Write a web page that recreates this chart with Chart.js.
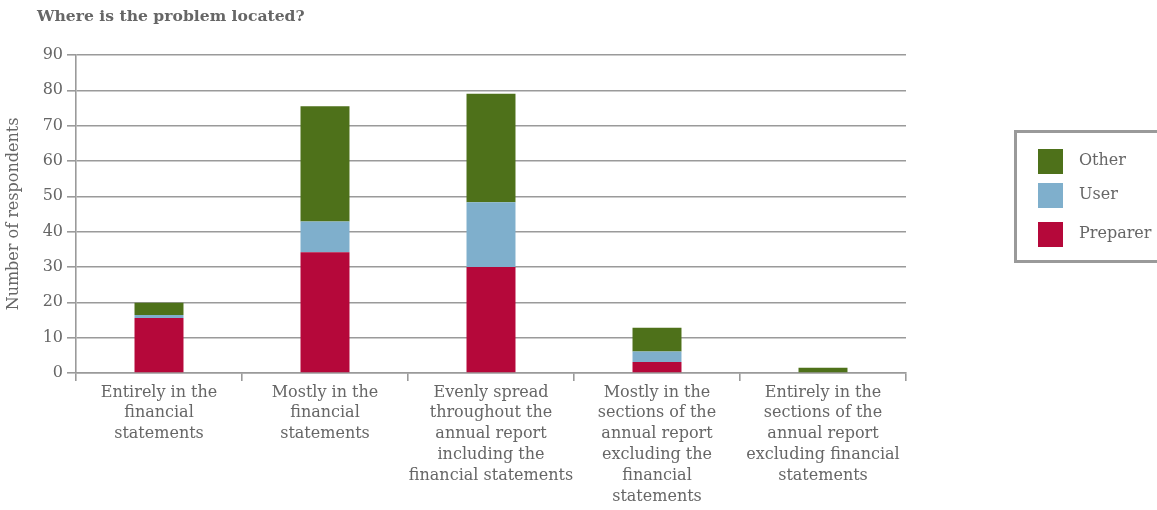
<!DOCTYPE html>
<html>
<head>
<meta charset="utf-8">
<script src="https://cdn.jsdelivr.net/npm/chart.js"></script>
<style>
  html, body { margin: 0; padding: 0; background: #fff; }
  #wrap { position: relative; width: 1157px; height: 510px; }
  #title {
    position: absolute; left: 37px; top: 6px;
    font: bold 15.6px "DejaVu Serif", serif; color: #666;
  }
  #legend {
    position: absolute; left: 1014px; top: 130px; width: 150px; height: 127px;
    border: 3px solid #9a9a9a; box-sizing: content-box;
  }
  .item { position: absolute; left: 21px; height: 25px; font: 16px "DejaVu Serif", serif; color: #666; }
  .item span.sw { position: absolute; left: 0; top: 0; width: 25px; height: 25px; }
  .item span.tx { position: absolute; left: 41px; top: 0; line-height: 22px; white-space: nowrap; }
</style>
</head>
<body>
<div id="wrap">
  <canvas id="chart" width="1157" height="510"></canvas>
  <div id="title">Where is the problem located?</div>
  <div id="legend"></div>
</div>
<script>
const categories = [
  ["Entirely in the", "financial", "statements"],
  ["Mostly in the", "financial", "statements"],
  ["Evenly spread", "throughout the", "annual report", "including the", "financial statements"],
  ["Mostly in the", "sections of the", "annual report", "excluding the", "financial", "statements"],
  ["Entirely in the", "sections of the", "annual report", "excluding financial", "statements"]
];
const preparer = [15.6, 34.2, 30.0, 3.1, 0];
const user = [0.8, 8.7, 18.3, 3.0, 0];
const other = [3.5, 32.6, 30.7, 6.7, 1.5];
const yTicks = [0, 10, 20, 30, 40, 50, 60, 70, 80, 90];

const colors = { Preparer: "#b5083a", User: "#7fafcc", Other: "#4e711a" };
const gridColor = "#9a9a9a";
const textColor = "#666";
const fontFamily = "'DejaVu Serif', serif";

const datasets = [
  { label: "Preparer", data: preparer, backgroundColor: colors.Preparer },
  { label: "User", data: user, backgroundColor: colors.User },
  { label: "Other", data: other, backgroundColor: colors.Other }
];

const ctx = document.getElementById("chart").getContext("2d");
new Chart(ctx, {
  type: "bar",
  data: { labels: categories, datasets: datasets },
  options: {
    responsive: false,
    animation: false,
    devicePixelRatio: 1,
    datasets: { bar: { categoryPercentage: 1, barPercentage: 0.295 } },
    layout: { padding: { top: 55, right: 251, bottom: 0, left: 4 } },
    plugins: { legend: { display: false }, tooltip: { enabled: false } },
    scales: {
      x: {
        stacked: true,
        grid: { offset: true, drawOnChartArea: false, color: gridColor, lineWidth: 1.6, tickLength: 8 },
        border: { color: gridColor, width: 1.6 },
        ticks: {
          color: textColor, padding: 1, maxRotation: 0, autoSkip: false,
          font: { family: fontFamily, size: 16, lineHeight: 1.3 }
        },
        afterFit: (s) => { s.height = 137; }
      },
      y: {
        stacked: true,
        min: 0, max: 90,
        afterBuildTicks: (s) => { s.ticks = yTicks.map(v => ({ value: v })); },
        grid: { color: gridColor, lineWidth: 1.6, tickLength: 9 },
        border: { color: gridColor, width: 1.6 },
        ticks: { color: textColor, padding: 4, font: { family: fontFamily, size: 16 } },
        title: {
          display: true, text: "Number of respondents", color: textColor,
          font: { family: fontFamily, size: 16 }, padding: { top: 0, bottom: 0 }
        },
        afterFit: (s) => { s.width = 72; }
      }
    }
  }
});

// legend, top to bottom: Other, User, Preparer
const legend = document.getElementById("legend");
const legendTops = { Other: 16, User: 50, Preparer: 89 };
datasets.slice().reverse().forEach(ds => {
  const el = document.createElement("div");
  el.className = "item";
  el.style.top = legendTops[ds.label] + "px";
  el.innerHTML = '<span class="sw" style="background:' + ds.backgroundColor + '"></span><span class="tx">' + ds.label + '</span>';
  legend.appendChild(el);
});
</script>
</body>
</html>
